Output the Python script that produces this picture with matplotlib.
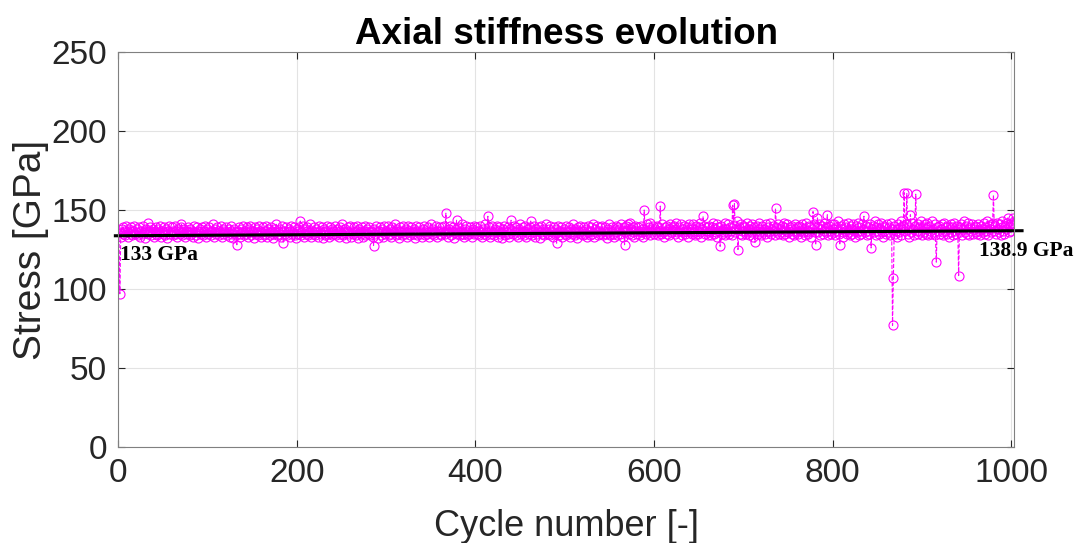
import numpy as np
import matplotlib.pyplot as plt

plt.rcParams['font.family'] = ['Liberation Sans', 'DejaVu Sans']

# axial stiffness per cycle [GPa], read row by row (20 cycles per row)
stiffness = [
    136, 97, 133, 138, 135, 139, 137, 134, 140, 136, 133, 138, 137, 135, 139, 134, 137, 140, 135, 136,
    138, 134, 136, 139, 133, 137, 135, 140, 136, 132, 138, 136, 142, 135, 137, 139, 134, 136, 138, 133,
    137, 139, 135, 134, 138, 136, 140, 133, 137, 135, 139, 136, 134, 138, 132, 137, 140, 135, 136, 139,
    134, 137, 136, 140, 135, 133, 138, 137, 135, 139, 141, 134, 136, 138, 133, 137, 135, 139, 136, 134,
    138, 135, 137, 133, 140, 136, 134, 139, 137, 132, 136, 138, 135, 139, 134, 137, 140, 136, 133, 138,
    135, 139, 136, 134, 137, 141, 133, 136, 138, 135, 139, 137, 134, 136, 140, 133, 138, 135, 137, 136,
    139, 134, 136, 138, 133, 137, 140, 135, 132, 138, 136, 134, 128, 137, 139, 135, 133, 138, 136, 140,
    134, 137, 135, 139, 136, 133, 138, 140, 134, 136, 137, 132, 139, 135, 138, 136, 134, 140, 137, 133,
    136, 139, 134, 137, 135, 140, 133, 138, 136, 134, 139, 137, 135, 132, 138, 136, 141, 134, 137, 135,
    138, 133, 136, 140, 129, 137, 135, 139, 134, 136, 138, 133, 137, 140, 135, 136, 139, 134, 132, 138,
    135, 137, 139, 143, 134, 136, 140, 133, 138, 135, 137, 139, 134, 136, 141, 133, 137, 135, 139, 136,
    134, 138, 136, 133, 140, 137, 135, 139, 132, 136, 138, 134, 137, 140, 135, 133, 139, 136, 134, 138,
    137, 135, 140, 134, 138, 136, 133, 139, 137, 135, 141, 134, 136, 138, 132, 137, 139, 135, 136, 140,
    133, 137, 135, 139, 136, 134, 140, 137, 132, 138, 136, 135, 139, 133, 137, 140, 134, 136, 138, 135,
    139, 134, 137, 136, 133, 127.5, 138, 135, 140, 136, 132, 137, 139, 134, 136, 138, 133, 140, 135, 137,
    136, 140, 134, 138, 135, 133, 139, 137, 136, 141, 134, 138, 135, 137, 132, 139, 136, 134, 140, 137,
    135, 138, 136, 133, 140, 137, 134, 139, 136, 135, 138, 132, 137, 140, 134, 136, 139, 135, 137, 133,
    138, 136, 140, 134, 137, 135, 139, 133, 136, 141, 135, 137, 138, 134, 136, 140, 133, 137, 139, 135,
    137, 134, 139, 136, 140, 135, 148, 137, 133, 138, 136, 140, 134, 137, 139, 132, 136, 138, 143.5, 135,
    136, 139, 134, 137, 141, 135, 133, 138, 136, 140, 134, 137, 135, 139, 136, 133, 138, 140, 135, 137,
    139, 135, 137, 134, 140, 136, 133, 138, 137, 135, 141, 134, 136, 146, 139, 133, 137, 135, 140, 136,
    134, 138, 136, 140, 133, 137, 139, 135, 136, 132, 138, 140, 134, 137, 136, 139, 135, 133, 138, 143.5,
    137, 135, 140, 136, 134, 139, 137, 133, 138, 141, 135, 136, 139, 134, 137, 140, 133, 136, 138, 135,
    139, 143, 134, 137, 136, 140, 133, 138, 135, 137, 139, 132, 136, 140, 135, 138, 134, 137, 141, 136,
    135, 138, 140, 134, 137, 136, 133, 139, 135, 138, 129, 136, 140, 134, 137, 139, 133, 136, 138, 135,
    140, 134, 137, 136, 139, 133, 138, 135, 141, 136, 134, 138, 137, 132, 139, 136, 140, 135, 137, 134,
    137, 139, 135, 138, 133, 140, 136, 134, 139, 137, 135, 141, 133, 138, 136, 140, 134, 137, 139, 135,
    136, 140, 134, 137, 139, 135, 132, 138, 136, 141, 134, 137, 139, 135, 133, 138, 140, 136, 134, 139,
    138, 135, 141, 137, 133, 139, 128, 136, 140, 137, 141, 135, 142, 138, 134, 139, 136, 133, 140, 137,
    135, 139, 137, 134, 140, 136, 138, 133, 150, 137, 135, 141, 136, 139, 142, 134, 138, 136, 140, 135,
    138, 136, 140, 134, 139, 137, 152.5, 135, 141, 136, 133, 139, 137, 140, 135, 138, 134, 141, 136, 139,
    137, 140, 135, 138, 142, 136, 133, 139, 137, 141, 134, 138, 136, 140, 135, 137, 139, 133, 141, 136,
    139, 135, 138, 141, 136, 134, 140, 137, 135, 139, 142, 136, 133, 138, 146, 140, 135, 137, 139, 134,
    136, 140, 137, 134, 139, 142, 135, 138, 136, 141, 133, 139, 137, 127, 140, 135, 138, 136, 142, 134,
    138, 136, 141, 135, 139, 137, 134, 153, 140, 154, 136, 138, 143, 125, 139, 135, 141, 137, 134, 140,
    137, 139, 135, 142, 136, 134, 140, 138, 136, 141, 133, 139, 129.5, 137, 140, 135, 138, 142, 136, 134,
    140, 136, 138, 135, 141, 137, 133, 139, 136, 142, 135, 138, 140, 137, 134, 151, 139, 136, 141, 135,
    138, 136, 140, 134, 139, 142, 135, 137, 141, 136, 133, 139, 138, 135, 140, 137, 134, 141, 136, 139,
    135, 140, 137, 139, 133, 141, 136, 138, 134, 142, 137, 135, 140, 136, 139, 133, 138, 149, 141, 136,
    128, 139, 145, 136, 141, 134, 138, 140, 135, 137, 142, 136, 139, 147, 134, 140, 137, 135, 141, 138,
    136, 141, 134, 139, 137, 143, 135, 128, 140, 138, 136, 133, 141, 137, 139, 135, 142, 136, 134, 140,
    138, 135, 141, 137, 133, 140, 136, 142, 134, 139, 137, 135, 141, 138, 146, 136, 140, 134, 139, 137,
    135, 141, 126, 138, 140, 136, 143, 134, 139, 137, 141, 135, 138, 142, 136, 133, 140, 137, 139, 135,
    141, 136, 139, 134, 142, 138, 77, 107, 140, 135, 137, 133, 141, 136, 139, 143, 134, 138, 140, 161,
    137, 141, 160.5, 135, 139, 133, 147, 136, 142, 138, 134, 140, 160, 137, 135, 141, 139, 136, 143, 134,
    139, 136, 141, 135, 138, 142, 134, 140, 137, 135, 143, 138, 136, 141, 134, 117, 139, 137, 140, 135,
    138, 141, 136, 134, 142, 137, 139, 135, 140, 133, 138, 141, 136, 139, 134, 142, 137, 135, 140, 138,
    108.5, 139, 136, 141, 134, 138, 143, 136, 140, 135, 138, 142, 134, 139, 137, 141, 135, 138, 140, 136,
    139, 135, 141, 137, 134, 140, 138, 136, 142, 135, 139, 137, 143, 134, 140, 138, 136, 141, 142, 159.5,
    137, 140, 135, 142, 138, 136, 141, 134, 139, 143, 137, 135, 140, 138, 142, 145, 136, 141, 139, 137,
    141, 145, 143,
]
cycles = np.arange(1, len(stiffness) + 1)

# linear trend as drawn (start / end of black line)
trend_x = [-3, 1012]
trend_y = [133.7, 136.9]
label_start = '133 GPa'
label_end = '138.9 GPa'

fig = plt.figure(figsize=(10.8, 5.43), dpi=100)
ax = fig.add_axes([0.1093, 0.1768, 0.8296, 0.7274])

ax.plot(cycles, stiffness, '--o', color='#ff00ff', linewidth=0.8,
        markersize=6.5, markerfacecolor='none', markeredgewidth=0.8)
ax.plot(trend_x, trend_y, '-', color='black', linewidth=2.2, clip_on=False)

ax.text(2, 118.5, label_start, fontsize=15.5, fontweight='bold',
        family=['Liberation Serif', 'DejaVu Serif'], va='baseline')
ax.text(964, 121, label_end, fontsize=15.5, fontweight='bold',
        family=['Liberation Serif', 'DejaVu Serif'], va='baseline')

ax.set_xlim(0, 1003)
ax.set_ylim(0, 250)
ax.set_xticks([0, 200, 400, 600, 800, 1000])
ax.set_yticks([0, 50, 100, 150, 200, 250])
ax.grid(True, color='#e3e3e3', linewidth=0.8)
ax.set_axisbelow(True)
ax.tick_params(direction='in', length=5, width=0.8, top=True, right=True,
               labelsize=24, colors='#262626', pad=8)
for s in ax.spines.values():
    s.set_color('#808080')
    s.set_linewidth(0.8)

ax.set_title('Axial stiffness evolution', fontsize=26.5, fontweight='bold', pad=6)
ax.set_xlabel('Cycle number [-]', fontsize=26, color='#262626', labelpad=14)
ax.set_ylabel('Stress [GPa]', fontsize=28, color='#262626', labelpad=2)

fig.savefig('out.png', dpi=100)
